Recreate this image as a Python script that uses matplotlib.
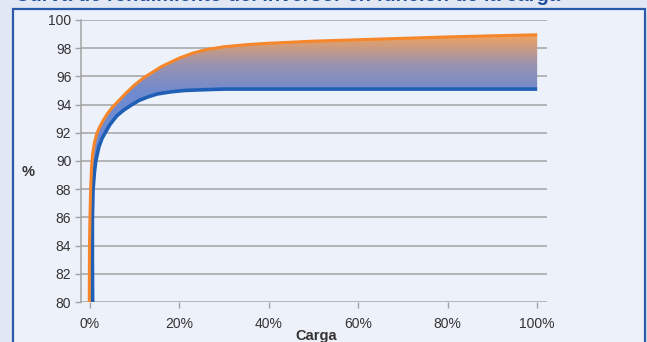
import matplotlib
matplotlib.use("Agg")
import matplotlib.pyplot as plt
import numpy as np
from matplotlib.patches import Polygon, Rectangle
from matplotlib.colors import LinearSegmentedColormap, Normalize

# load (%) and efficiency (%) for the two curves
carga_max = [-0.15, -0.1, 0.0, 0.15, 0.35, 0.6, 1.0, 1.5, 2.0, 3.0, 4.0, 5.0,
             6.5, 8.0, 10.0, 12.0, 14.0, 16.0, 18.0, 20.0, 23.0, 26.0, 30.0,
             35.0, 40.0, 50.0, 60.0, 70.0, 80.0, 90.0, 100.0]
efic_max = [80.0, 84.0, 86.0, 88.0, 89.5, 90.5, 91.3, 91.9, 92.3, 92.9, 93.4,
            93.8, 94.3, 94.8, 95.4, 95.9, 96.3, 96.7, 97.0, 97.3, 97.65, 97.9,
            98.1, 98.25, 98.35, 98.5, 98.6, 98.7, 98.8, 98.88, 98.95]

carga_min = [0.6, 0.55, 0.55, 0.7, 1.0, 1.3, 2.0, 2.7, 3.4, 4.5, 6.0, 7.5,
             9.4, 11.0, 13.0, 15.0, 18.0, 21.0, 25.0, 30.0, 50.0, 100.0]
efic_min = [80.0, 83.0, 86.0, 88.0, 89.2, 90.0, 91.0, 91.6, 92.0, 92.6, 93.2,
            93.6, 94.0, 94.3, 94.55, 94.75, 94.9, 95.0, 95.05, 95.1, 95.1, 95.1]

xticks = [0, 20, 40, 60, 80, 100]
xlabels = ["0%", "20%", "40%", "60%", "80%", "100%"]
yticks = list(range(80, 101, 2))

plt.rcParams["font.family"] = ["Liberation Sans", "DejaVu Sans"]

W, H = 647, 342
fig = plt.figure(figsize=(W / 100, H / 100), dpi=100)
fig.patch.set_facecolor("#e2e7f4")

# inner panel with blue border
panel = Rectangle((12.5 / W, -0.05), (645 - 12.5) / W, 1.05 - 9 / H,
                  transform=fig.transFigure, facecolor="#edf1fa",
                  edgecolor="#2b5ba8", linewidth=1.6, zorder=0)
fig.add_artist(panel)

# heading sits mostly above the top edge
fig.text(15 / W, 1 - 1.4 / H, "Curva de rendimiento del inversor en función de la carga",
         ha="left", va="baseline", fontsize=14.5, fontweight="bold", color="#1f4f9e")

ax = fig.add_axes([81 / W, 1 - 302 / H, (547 - 81) / W, (302 - 20) / H])
ax.set_facecolor("none")
ax.set_xlim(-2.0, 102.2)
ax.set_ylim(80, 100)

for y in yticks:
    ax.axhline(y, color="#a3a3a3", linewidth=1.1, zorder=1)

# band between the curves, shaded orange (top) to blue (bottom)
pts = list(zip(carga_max, efic_max)) + list(zip(carga_min, efic_min))[::-1]
band = Polygon(pts, closed=True, facecolor="none", edgecolor="none")
ax.add_patch(band)
cmap = LinearSegmentedColormap.from_list("banda", ["#6f8ad0", "#9a93ae", "#f2a35e"])
yy = np.linspace(80, 100, 400).reshape(-1, 1)
img = ax.imshow(yy, extent=[-2, 102.2, 80, 100], origin="lower", aspect="auto",
                cmap=cmap, norm=Normalize(94.8, 99.0), zorder=2)
img.set_clip_path(band)

ax.plot(carga_min, efic_min, color="#1f5fb5", linewidth=2.6, zorder=3,
        solid_capstyle="butt", solid_joinstyle="round")
ax.plot(carga_max, efic_max, color="#f5862a", linewidth=2.2, zorder=4,
        solid_capstyle="butt", solid_joinstyle="round")

ax.set_xticks(xticks)
ax.set_xticklabels(xlabels)
ax.set_yticks(yticks)
ax.tick_params(axis="both", colors="#a3a3a3", labelcolor="#333333",
               labelsize=10, length=4, width=1.0, direction="out")
ax.tick_params(axis="x", pad=7)
ax.tick_params(axis="y", pad=3)

for side in ["top", "right", "bottom"]:
    ax.spines[side].set_visible(False)
ax.spines["left"].set_color("#a3a3a3")
ax.spines["left"].set_linewidth(1.1)

fig.text(28 / W, 1 - 172 / H, "%", ha="center", va="center", fontsize=10.5,
         fontweight="bold", color="#333333")
fig.text(316 / W, 1 - 340 / H, "Carga", ha="center", va="baseline", fontsize=10.5,
         fontweight="bold", color="#333333")

fig.savefig("out.png", dpi=100, facecolor=fig.get_facecolor())
